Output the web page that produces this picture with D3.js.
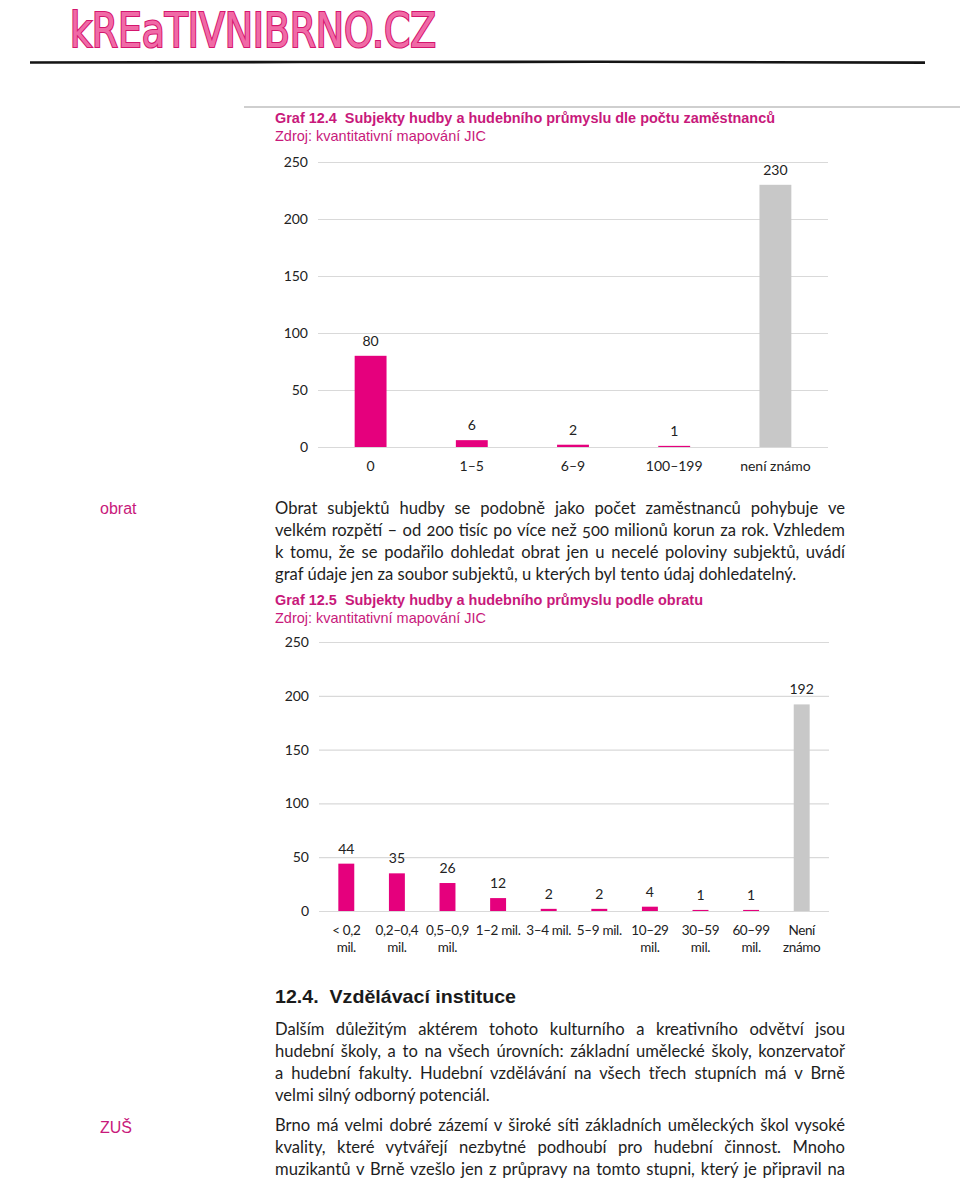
<!DOCTYPE html>
<html><head><meta charset="utf-8">
<script src="https://cdn.jsdelivr.net/npm/d3@7"></script>
<style>
html,body{margin:0;padding:0;background:#fff;}
svg{display:block;}
text.pre{white-space:pre;}
</style></head>
<body>
<svg id="page" width="960" height="1180"></svg>
<script>
// ---- data ----
const cats1 = ["0", "1–5", "6–9", "100–199", "není známo"];
const vals1 = [80, 6, 2, 1, 230];
const unknown1 = [false, false, false, false, true];

const cats2 = ["< 0,2 mil.", "0,2–0,4 mil.", "0,5–0,9 mil.", "1–2 mil.", "3–4 mil.", "5–9 mil.", "10–29 mil.", "30–59 mil.", "60–99 mil.", "Není známo"];
const catLines2 = [["< 0,2","mil."],["0,2–0,4","mil."],["0,5–0,9","mil."],["1–2 mil."],["3–4 mil."],["5–9 mil."],["10–29","mil."],["30–59","mil."],["60–99","mil."],["Není","známo"]];
const vals2 = [44, 35, 26, 12, 2, 2, 4, 1, 1, 192];
const unknown2 = [false, false, false, false, false, false, false, false, false, true];

const yTicks = [0, 50, 100, 150, 200, 250];

const title1 = "Graf 12.4  Subjekty hudby a hudebního průmyslu dle počtu zaměstnanců";
const title2 = "Graf 12.5  Subjekty hudby a hudebního průmyslu podle obratu";
const source = "Zdroj: kvantitativní mapování JIC";

const para1 = ["Obrat subjektů hudby se podobně jako počet zaměstnanců pohybuje ve",
  "velkém rozpětí – od 200 tisíc po více než 500 milionů korun za rok. Vzhledem",
  "k tomu, že se podařilo dohledat obrat jen u necelé poloviny subjektů, uvádí",
  "graf údaje jen za soubor subjektů, u kterých byl tento údaj dohledatelný."];
const para2 = ["Dalším důležitým aktérem tohoto kulturního a kreativního odvětví jsou",
  "hudební školy, a to na všech úrovních: základní umělecké školy, konzervatoř",
  "a hudební fakulty. Hudební vzdělávání na všech třech stupních má v Brně",
  "velmi silný odborný potenciál."];
const para3 = ["Brno má velmi dobré zázemí v široké síti základních uměleckých škol vysoké",
  "kvality, které vytvářejí nezbytné podhoubí pro hudební činnost. Mnoho",
  "muzikantů v Brně vzešlo jen z průpravy na tomto stupni, který je připravil na"];

// ---- styles ----
const PINK = "#e5007d";
const TITLE_PINK = "#c8197b";
const GREY = "#c8c8c8";
const GRID = "#d9d9d9";
const BODY_FONT = "Lato, 'Open Sans', sans-serif";
const HEAD_FONT = "'Liberation Sans Narrow', 'Liberation Sans', Arial, sans-serif";

const svg = d3.select("#page");

// ---- header ----
svg.append("text")
  .attr("x", 70).attr("y", 47)
  .attr("textLength", 366).attr("lengthAdjust", "spacingAndGlyphs")
  .style("font-family", "'DejaVu Sans Condensed', 'DejaVu Sans', sans-serif")
  .style("font-size", "48px")
  .attr("fill", "#f06aa6").attr("stroke", "#d4166e").attr("stroke-width", 2.2)
  .attr("paint-order", "stroke")
  .text("kREaTIVNIBRNO.CZ");

svg.append("path")
  .attr("d", "M30,62.5 L300,62 L600,61.8 L925,62.6")
  .attr("stroke", "#151515").attr("stroke-width", 2.6).attr("fill", "none");

svg.append("line").attr("x1", 244).attr("x2", 960).attr("y1", 107).attr("y2", 107)
  .attr("stroke", "#cfcfcf").attr("stroke-width", 2);

// ---- helper: titles ----
function titleBlock(yTitle, text, wTitle, wSrc) {
  svg.append("text").attr("class", "pre").attr("x", 275).attr("y", yTitle)
    .attr("textLength", wTitle).attr("lengthAdjust", "spacingAndGlyphs")
    .style("font-family", "'Liberation Sans', Arial, sans-serif").style("font-size", "14.5px")
    .style("font-weight", "bold").attr("fill", TITLE_PINK).text(text);
  svg.append("text").attr("x", 275).attr("y", yTitle + 18)
    .attr("textLength", wSrc).attr("lengthAdjust", "spacingAndGlyphs")
    .style("font-family", "'Liberation Sans', Arial, sans-serif").style("font-size", "14.5px")
    .attr("fill", TITLE_PINK).text(source);
}

// ---- helper: bar chart ----
function barChart(cfg) {
  const g = svg.append("g");
  const x = d3.scaleBand().domain(cfg.cats).range([cfg.x0, cfg.x1])
    .paddingInner(0.685).paddingOuter(0.3425);
  const y = d3.scaleLinear().domain([0, 250]).range([cfg.yBottom, cfg.yTop]);

  const yAxis = d3.axisLeft(y).tickValues(yTicks)
    .tickSizeInner(-(cfg.x1 - cfg.x0 + 4)).tickSizeOuter(0).tickPadding(10);
  const ga = g.append("g").attr("transform", `translate(${cfg.x0 - 2},0)`).call(yAxis);
  ga.select(".domain").remove();
  ga.selectAll(".tick line").attr("stroke", GRID).attr("stroke-width", 1.2);
  ga.selectAll(".tick text").attr("fill", "#222")
    .style("font-family", BODY_FONT).style("font-size", "14px");

  g.selectAll("rect.bar").data(cfg.vals).join("rect")
    .attr("class", "bar")
    .attr("x", (d, i) => x(cfg.cats[i]))
    .attr("width", x.bandwidth())
    .attr("y", d => y(d))
    .attr("height", d => y(0) - y(d))
    .attr("fill", (d, i) => cfg.unknown[i] ? GREY : PINK);

  g.selectAll("text.val").data(cfg.vals).join("text")
    .attr("class", "val")
    .attr("x", (d, i) => x(cfg.cats[i]) + x.bandwidth() / 2)
    .attr("y", d => y(d) - 10)
    .attr("text-anchor", "middle").attr("fill", "#222")
    .style("font-family", BODY_FONT).style("font-size", "14px")
    .text(d => d);

  const xl = g.selectAll("text.xl").data(cfg.lines).join("text")
    .attr("class", "xl")
    .attr("x", (d, i) => x(cfg.cats[i]) + x.bandwidth() / 2)
    .attr("y", cfg.yBottom + cfg.labelOffset)
    .attr("text-anchor", "middle").attr("fill", "#222")
    .style("font-family", BODY_FONT).style("font-size", cfg.xFont)
    .style("letter-spacing", cfg.xSpacing);
  xl.each(function (lines, i) {
    const t = d3.select(this);
    lines.forEach((ln, k) => {
      t.append("tspan").attr("x", x(cfg.cats[i]) + x.bandwidth() / 2)
        .attr("dy", k === 0 ? 0 : 17).text(ln);
    });
  });
}

// ---- chart 1 ----
titleBlock(123, title1, 500, 211);
barChart({
  cats: cats1, vals: vals1, unknown: unknown1, lines: cats1.map(c => [c]),
  x0: 320, x1: 826, yBottom: 447, yTop: 162, labelOffset: 24,
  xFont: "14px", xSpacing: "0px"
});

// ---- body text helpers ----
function sideLabel(y, text) {
  svg.append("text").attr("x", 100).attr("y", y)
    .style("font-family", HEAD_FONT).style("font-size", "16px")
    .attr("fill", TITLE_PINK).text(text);
}
function paragraph(lines, yFirst, justifyLast) {
  lines.forEach((ln, i) => {
    const t = svg.append("text").attr("x", 275).attr("y", yFirst + i * 22)
      .style("font-family", BODY_FONT).style("font-size", "16.6px")
      .style("font-variant-numeric", "oldstyle-nums")
      .attr("fill", "#1e1e1e").text(ln);
    const isLast = i === lines.length - 1;
    if (!isLast || justifyLast) {
      const w = t.node().getComputedTextLength();
      const spaces = (ln.match(/ /g) || []).length;
      const target = 845 - 275;
      if (spaces > 0) t.attr("word-spacing", (target - w) / spaces);
    }
  });
}

sideLabel(514, "obrat");
paragraph(para1, 514, false);

// ---- chart 2 ----
titleBlock(605, title2, 428, 211);
barChart({
  cats: cats2, vals: vals2, unknown: unknown2, lines: catLines2,
  x0: 321, x1: 827, yBottom: 911, yTop: 642, labelOffset: 24,
  xFont: "13.5px", xSpacing: "-0.35px"
});

// ---- section 12.4 ----
svg.append("text").attr("class", "pre").attr("x", 275).attr("y", 1003)
  .attr("textLength", 241).attr("lengthAdjust", "spacingAndGlyphs")
  .style("font-family", "'Liberation Sans', Arial, sans-serif").style("font-size", "18.5px")
  .style("font-weight", "bold").attr("fill", "#1a1a1a")
  .text("12.4.  Vzdělávací instituce");

paragraph(para2, 1035, false);
sideLabel(1133, "ZUŠ");
paragraph(para3, 1131, true);
</script>
</body></html>
